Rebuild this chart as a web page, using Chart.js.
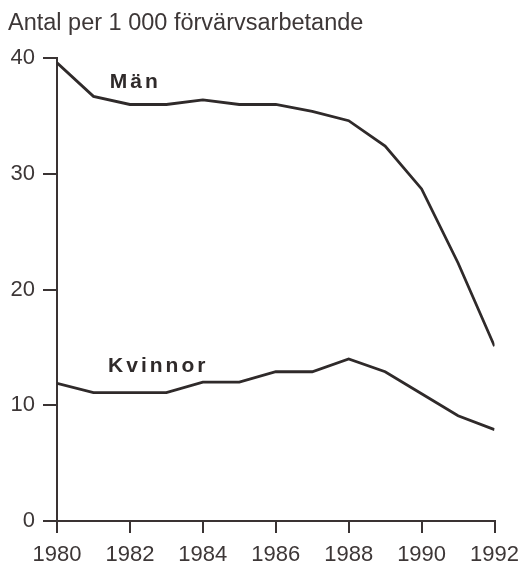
<!DOCTYPE html>
<html>
<head>
<meta charset="utf-8">
<script src="https://cdn.jsdelivr.net/npm/chart.js@4/dist/chart.umd.min.js"></script>
<style>
body { margin: 0; background: #fff; }
#wrap { width: 528px; height: 564px; }
</style>
</head>
<body>
<div id="wrap"><canvas id="lineChart"></canvas></div>
<script>
var years = [1980, 1981, 1982, 1983, 1984, 1985, 1986, 1987, 1988, 1989, 1990, 1991, 1992];
var man = [39.6, 36.7, 36.0, 36.0, 36.4, 36.0, 36.0, 35.4, 34.6, 32.4, 28.7, 22.3, 15.1];
var kvinnor = [11.9, 11.1, 11.1, 11.1, 12.0, 12.0, 12.9, 12.9, 14.0, 12.9, 11.0, 9.1, 7.9];
var seriesNames = ['Män', 'Kvinnor'];
// where the series names sit, in data units (year, value)
var nameSpots = [[1981.45, 37.9], [1981.4, 13.4]];

var ink = '#2f2a2a';
var axisInk = '#3a3333';
var textInk = '#3d3737';

function toPoints(vals) {
    var pts = [];
    for (var i in years) {
        pts.push({ x: years[i], y: vals[i] });
    }
    return pts;
}

var seriesLabels = {
    id: 'seriesLabels',
    afterDatasetsDraw: function (chart) {
        var ctx = chart.ctx;
        var xs = chart.scales.x, ys = chart.scales.y;
        ctx.save();
        ctx.font = 'bold 21px "Liberation Sans", Arial, sans-serif';
        ctx.letterSpacing = '3px';
        ctx.fillStyle = ink;
        ctx.textAlign = 'left';
        ctx.textBaseline = 'middle';
        for (var i = 0; i < seriesNames.length; i++) {
            ctx.fillText(seriesNames[i], xs.getPixelForValue(nameSpots[i][0]), ys.getPixelForValue(nameSpots[i][1]));
        }
        ctx.restore();
    }
};

var ctxx = document.getElementById('lineChart').getContext('2d');
var myChart = new Chart(ctxx, {
    type: 'line',
    data: {
        datasets: [{
            label: seriesNames[0],
            data: toPoints(man),
            borderColor: ink,
            borderWidth: 2.8,
            pointRadius: 0,
            tension: 0
        }, {
            label: seriesNames[1],
            data: toPoints(kvinnor),
            borderColor: ink,
            borderWidth: 2.8,
            pointRadius: 0,
            tension: 0
        }]
    },
    options: {
        responsive: true,
        maintainAspectRatio: false,
        animation: false,
        layout: { padding: { left: 8, right: 33, top: 0, bottom: 0 } },
        plugins: {
            legend: { display: false },
            tooltip: { enabled: false },
            title: {
                display: true,
                text: 'Antal per 1 000 förvärvsarbetande',
                align: 'start',
                color: textInk,
                font: { family: '"Liberation Sans", Arial, sans-serif', size: 23.5, weight: 'normal' },
                padding: { top: 9, bottom: 21 }
            }
        },
        scales: {
            x: {
                type: 'linear',
                min: 1980,
                max: 1992,
                afterFit: function (s) { s.height = 43; },
                border: { display: true, color: axisInk, width: 2 },
                grid: { drawOnChartArea: false, drawTicks: true, tickLength: 12, color: axisInk, lineWidth: 2 },
                ticks: {
                    stepSize: 2,
                    color: textInk,
                    padding: 9,
                    font: { family: '"Liberation Sans", Arial, sans-serif', size: 22 },
                    callback: function (v) { return String(v); }
                }
            },
            y: {
                min: 0,
                max: 40,
                afterFit: function (s) { s.width = 49; },
                border: { display: true, color: axisInk, width: 2 },
                grid: { drawOnChartArea: false, drawTicks: true, tickLength: 14, color: axisInk, lineWidth: 2 },
                ticks: {
                    stepSize: 10,
                    color: textInk,
                    padding: 8,
                    font: { family: '"Liberation Sans", Arial, sans-serif', size: 22 }
                }
            }
        }
    },
    plugins: [seriesLabels]
});
</script>
</body>
</html>
